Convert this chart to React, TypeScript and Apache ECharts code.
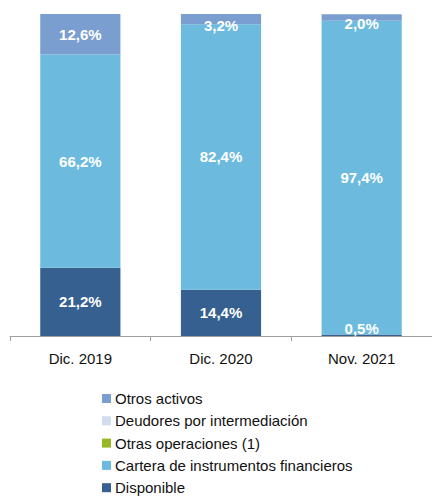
import React, { useEffect, useRef } from "react";
import * as echarts from "echarts";

const categories = ["Dic. 2019", "Dic. 2020", "Nov. 2021"];
const disponible = [21.2, 14.4, 0.5];
const cartera = [66.2, 82.4, 97.4];
const otrasOperaciones = [0, 0, 0];
const deudores = [0, 0, 0];
const otrosActivos = [12.6, 3.2, 2.0];

const seriesNames = [
  "Disponible",
  "Cartera de instrumentos financieros",
  "Otras operaciones (1)",
  "Deudores por intermediación",
  "Otros activos",
];
const colors = ["#36608f", "#6cbbdf", "#97b824", "#cfddee", "#7a9ecf"];

const fmt = (v: number) => v.toFixed(1).replace(".", ",") + "%";

export default function App() {
  const ref = useRef<HTMLDivElement>(null);
  useEffect(() => {
    if (!ref.current) return;
    const chart = echarts.init(ref.current, undefined, { renderer: "svg" });
    const labelFont = {
      color: "#ffffff",
      fontFamily: "Liberation Sans, Arial",
      fontWeight: "bold" as const,
      fontSize: 15,
    };
    const mk = (name: string, data: number[], color: string, labelled: boolean, offsets?: (number[] | null)[]) => ({
      name,
      type: "bar" as const,
      stack: "total",
      barWidth: "57%",
      itemStyle: { color },
      data: data.map((v, i) => ({
        value: v,
        label: offsets && offsets[i] ? { offset: offsets[i] } : undefined,
      })),
      label: {
        show: labelled,
        position: "inside" as const,
        formatter: (p: any) => (p.value > 0 ? fmt(p.value) : ""),
        ...labelFont,
      },
    });
    chart.setOption({
      animation: false,
      color: colors,
      grid: { left: 10, right: -2, top: 14, bottom: 162, containLabel: false },
      xAxis: {
        type: "category",
        data: categories,
        axisLine: { show: true, lineStyle: { color: "#a0a0a0", width: 1 } },
        axisTick: { show: true, length: 5, lineStyle: { color: "#a0a0a0" } },
        axisLabel: {
          color: "#111111",
          fontSize: 15,
          fontFamily: "Liberation Sans, Arial",
          margin: 15,
        },
      },
      yAxis: { type: "value", min: 0, max: 100, show: false, splitLine: { show: false } },
      legend: {
        orient: "vertical",
        left: 97,
        top: 386,
        height: 130,
        itemWidth: 9,
        itemHeight: 9,
        itemGap: 7.3,
        icon: "rect",
        data: [seriesNames[4], seriesNames[3], seriesNames[2], seriesNames[1], seriesNames[0]],
        textStyle: {
          color: "#111111",
          fontSize: 15,
          lineHeight: 15,
          fontFamily: "Liberation Sans, Arial",
          padding: [0, 0, 0, -1],
        },
      },
      series: [
        mk(seriesNames[0], disponible, colors[0], true, [null, null, [0, -7]]),
        mk(seriesNames[1], cartera, colors[1], true),
        mk(seriesNames[2], otrasOperaciones, colors[2], false),
        mk(seriesNames[3], deudores, colors[3], false),
        mk(seriesNames[4], otrosActivos, colors[4], true, [null, [0, 6], [0, 6]]),
      ],
    });
    return () => chart.dispose();
  }, []);
  return (
    <div
      ref={ref}
      style={{ position: "absolute", left: 0, top: 0, width: 432, height: 498, background: "#ffffff" }}
    />
  );
}
